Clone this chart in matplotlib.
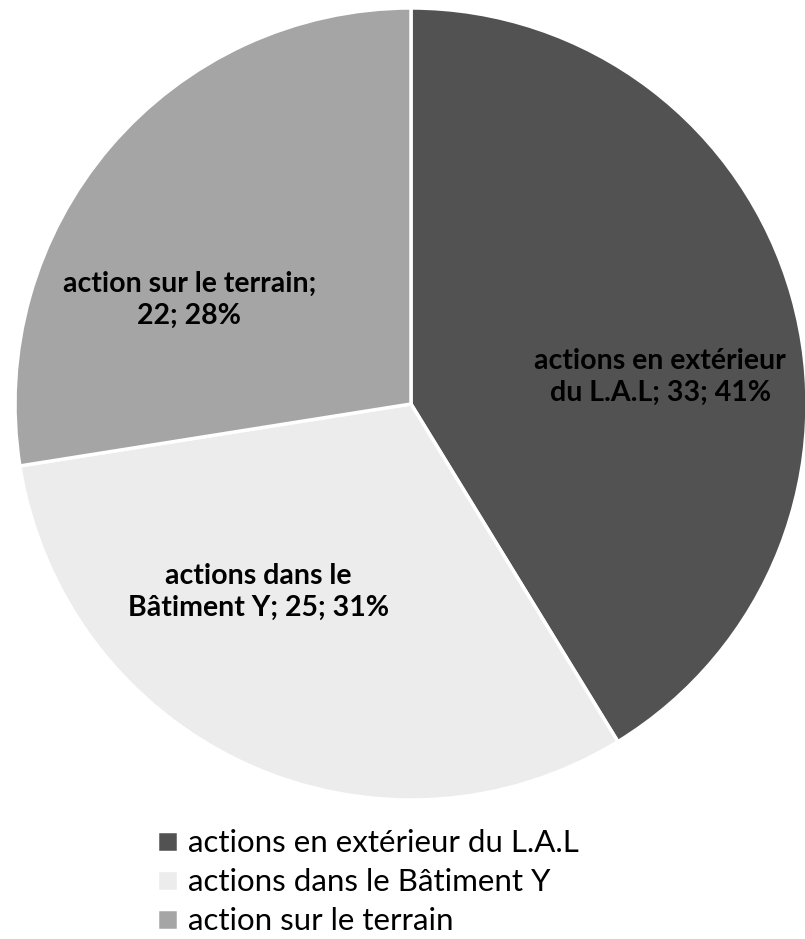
import matplotlib
matplotlib.use('Agg')
import matplotlib.pyplot as plt

plt.rcParams['font.family'] = ['Lato', 'DejaVu Sans']

categories = ['actions en extérieur du L.A.L', 'actions dans le Bâtiment Y', 'action sur le terrain']
values = [33, 25, 22]
percents = ['41%', '31%', '28%']
colours = ['#525252', '#ececec', '#a5a5a5']

# label text for each slice (line breaks as in the original)
slice_labels = ['actions en extérieur\ndu L.A.L; %d; %s' % (values[0], percents[0]),
                'actions dans le\nBâtiment Y; %d; %s' % (values[1], percents[1]),
                'action sur le terrain;\n%d; %s' % (values[2], percents[2])]
label_pos = [(0.629, 0.068), (-0.386, -0.475), (-0.56, 0.263)]

fig = plt.figure(figsize=(8.05, 9.39), dpi=100)
ax = fig.add_axes([15/805., 139/939., 792/805., 792/939.])

wedges, _ = ax.pie(values, colors=colours, startangle=90, counterclock=False,
                   wedgeprops=dict(edgecolor='white', linewidth=2.5))
for w in wedges:
    w.set_clip_on(False)

for txt, (x, y) in zip(slice_labels, label_pos):
    ax.text(x, y, txt, ha='center', va='center', fontsize=20.5, fontweight='bold',
            color='black', linespacing=1.25)

ax.set_xlim(-1, 1)
ax.set_ylim(-1, 1)
ax.axis('off')

# legend squares keep the white wedge edge, so make them a bit larger
leg = fig.legend(wedges, categories, loc='upper left', bbox_to_anchor=(157/805., 1 - 829/939.),
                 frameon=False, fontsize=22.5, handlelength=0.66, handleheight=0.66,
                 handletextpad=0.32, labelspacing=0.36, borderpad=0, borderaxespad=0)

plt.savefig('out.png', dpi=100)
